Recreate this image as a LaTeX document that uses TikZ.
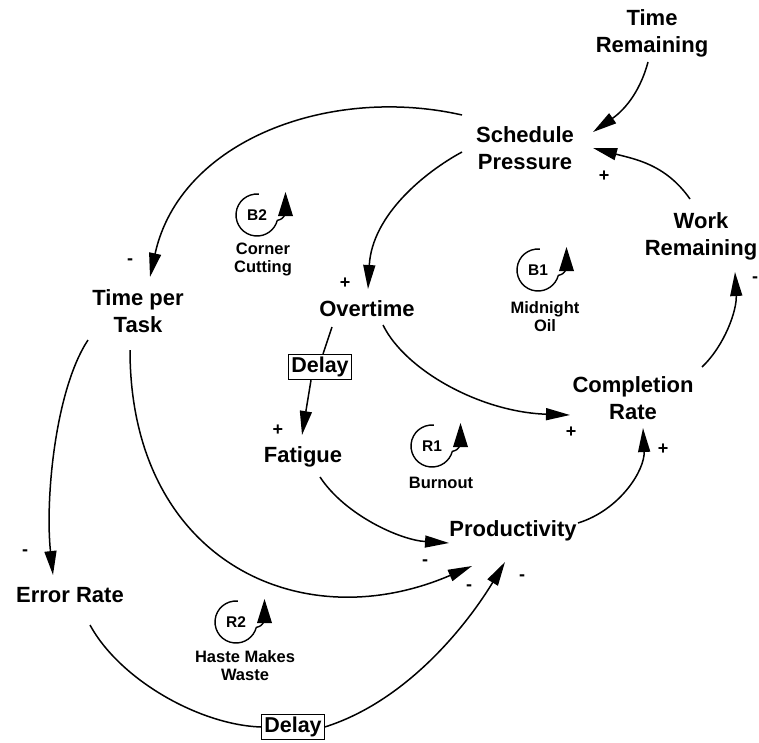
\documentclass[tikz,border=0pt]{standalone}
\usepackage{fontspec}
\setmainfont{Liberation Sans}
\usetikzlibrary{arrows.meta}
\begin{document}
\begin{tikzpicture}[x=1pt,y=1pt,
  var/.style={align=center, inner sep=1pt, font=\fontsize{22}{27}\selectfont\bfseries},
  delaybox/.style={draw, line width=1.2pt, inner sep=2.5pt, font=\fontsize{21.5}{25}\selectfont\bfseries},
  link/.style={line width=1.5pt, -{Triangle[length=24pt,width=12pt]}},
  plainlink/.style={line width=1.5pt},
  sign/.style={font=\fontsize{18}{18}\selectfont\bfseries, inner sep=0pt},
  looptag/.style={font=\fontsize{15.5}{15.5}\selectfont\bfseries, inner sep=0pt},
  loopname/.style={align=center, font=\fontsize{16.5}{18}\selectfont\bfseries, inner sep=0pt},
  loopline/.style={line width=1.4pt},
  pics/loopmark/.style={code={
    \draw[loopline] (85:21pt) arc[start angle=85,end angle=345,radius=21pt]
      .. controls (25,-4) .. (28.5,1);
    \fill (21,-1) -- (36,-1) -- (28.5,23) -- cycle;
  }}
]
\useasboundingbox (0,0) rectangle (759,-742);

% variables
\node[var] (tr) at (652,-33) {Time\\Remaining};
\node[var] (sp) at (525,-148) {Schedule\\Pressure};
\node[var] (wr) at (701,-236) {Work\\Remaining};
\node[var] (tpt) at (138,-311) {Time per\\Task};
\node[var] (ot) at (367,-309) {Overtime};
\node[delaybox] (d1) at (320,-367) {Delay};
\node[var] (fa) at (303,-457) {Fatigue};
\node[var] (cr) at (633,-398) {Completion\\Rate};
\node[var] (pr) at (513,-531) {Productivity};
\node[var] (er) at (70,-595) {Error Rate};
\node[delaybox] (d2) at (293,-727) {Delay};

% loop markers
\node[looptag] (b2) at (257,-215) {B2}; \pic at (b2.center) {loopmark};
\node[loopname] (b2n) at (263,-259) {Corner\\Cutting};
\node[looptag] (b1) at (538,-270) {B1}; \pic at (b1.center) {loopmark};
\node[loopname] (b1n) at (545,-317) {Midnight\\Oil};
\node[looptag] (r1) at (432,-446) {R1}; \pic at (r1.center) {loopmark};
\node[loopname] (r1n) at (441,-483) {Burnout};
\node[looptag] (r2) at (236,-622) {R2}; \pic at (r2.center) {loopmark};
\node[loopname] (r2n) at (245,-666) {Haste Makes\\Waste};

% causal links
\draw[link] ([shift={(-4,-29)}]tr.center) to[out=-105,in=35] ([shift={(68,16)}]sp.center);
\draw[link] ([shift={(-11,37)}]wr.center) to[out=125,in=-15] ([shift={(68,0)}]sp.center);
\draw[link] ([shift={(-63,33)}]sp.center) .. controls (330,-85) and (180,-140) .. ([shift={(12,34)}]tpt.center);
\draw[link] ([shift={(-63,-4)}]sp.center) .. controls (425,-172) and (372,-215) .. ([shift={(1,20)}]ot.center);
\draw[link] ([shift={(16,-16)}]ot.center) .. controls (405,-370) and (480,-412) .. ([shift={(-63,-17)}]cr.center);
\draw[plainlink] ([shift={(-35,-18)}]ot.center) -- ([xshift=3pt]d1.north);
\draw[link] ([xshift=-9pt]d1.south) -- ([shift={(-1,22)}]fa.center);
\draw[link] ([shift={(17,-20)}]fa.center) .. controls (345,-515) and (400,-540) .. ([shift={(-64,-12)}]pr.center);
\draw[link] ([shift={(65,8)}]pr.center) .. controls (620,-510) and (645,-470) .. ([shift={(10,-30)}]cr.center);
\draw[link] ([shift={(69,31)}]cr.center) .. controls (725,-345) and (737,-310) .. ([shift={(34,-36)}]wr.center);
\draw[link] ([shift={(-8,-39)}]tpt.center) .. controls (130,-560) and (300,-640) .. ([shift={(-41,-35)}]pr.center);
\draw[link] ([shift={(-50,-29)}]tpt.center) .. controls (55,-390) and (45,-500) .. ([shift={(-17,20)}]er.center);
\draw[plainlink] ([shift={(20,-30)}]er.center) .. controls (120,-680) and (200,-725) .. (d2.west);
\draw[link] (d2.east) .. controls (410,-700) and (470,-620) .. ([shift={(-8,-31)}]pr.center);

% polarities
\node[sign] (p1) at (604,-176) {+};
\node[sign] (p2) at (130,-262) {-};
\node[sign] (p3) at (345,-283) {+};
\node[sign] (p4) at (571,-432) {+};
\node[sign] (p5) at (278,-430) {+};
\node[sign] (p6) at (425,-563) {-};
\node[sign] (p7) at (663,-449) {+};
\node[sign] (p8) at (755,-280) {-};
\node[sign] (p9) at (469,-588) {-};
\node[sign] (p10) at (522,-578) {-};
\node[sign] (p11) at (25,-553) {-};
\end{tikzpicture}
\end{document}
